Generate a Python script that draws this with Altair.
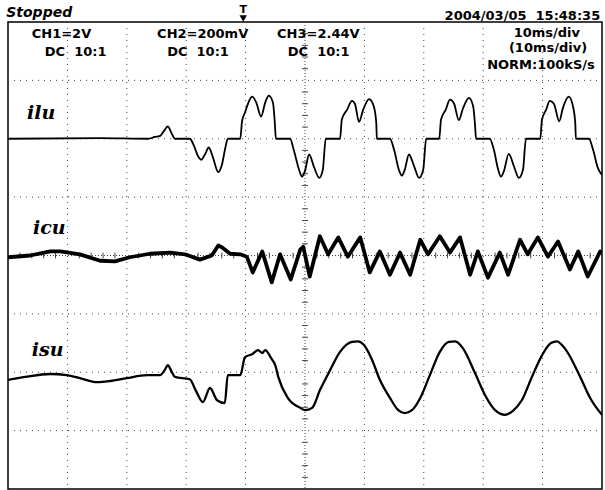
import altair as alt
import pandas as pd

# ---------------- waveform data (time in ms, value in divisions from channel ground) ----------------
ilu_t = [0.0, 15.5, 23.6, 24.7, 25.6, 26.3, 26.9, 27.6, 28.1, 30.6, 31.3, 32.0, 32.5, 33.2, 33.8, 34.5, 35.4, 36.0, 36.6, 37.0,
         39.1, 39.4, 39.9, 40.6, 41.1, 41.8, 42.6, 43.3, 43.9, 44.6, 44.9, 45.1,
         47.5, 48.1, 49.0, 49.5, 50.0, 50.7, 51.5, 52.4, 53.0, 53.5,
         55.9, 56.2, 57.1, 57.9, 58.4, 59.1, 59.8, 60.8, 61.6, 62.0, 62.1,
         64.3, 65.0, 65.8, 66.3, 66.8, 67.5, 68.4, 69.2, 69.9, 70.4,
         72.6, 72.9, 73.7, 74.4, 75.1, 75.9, 76.6, 77.6, 78.3, 78.6, 78.8,
         81.1, 81.8, 82.5, 83.0, 83.5, 84.3, 85.2, 86.0, 86.7, 87.2,
         89.6, 89.9, 90.6, 91.2, 91.9, 92.8, 93.4, 94.4, 95.1, 95.5, 95.6,
         97.8, 98.5, 99.3, 100.0]
ilu_v = [0.0, 0.01, 0.0, 0.03, 0.05, 0.14, 0.21, 0.08, 0.0, 0.0, -0.12, -0.30, -0.36, -0.26, -0.15, -0.32, -0.57, -0.45, -0.15, 0.0,
         0.0, 0.30, 0.45, 0.65, 0.72, 0.62, 0.38, 0.62, 0.74, 0.62, 0.30, 0.0,
         0.0, -0.19, -0.53, -0.65, -0.55, -0.27, -0.48, -0.67, -0.53, 0.0,
         0.0, 0.33, 0.50, 0.65, 0.60, 0.29, 0.50, 0.68, 0.55, 0.27, 0.0,
         0.0, -0.19, -0.53, -0.63, -0.53, -0.27, -0.48, -0.67, -0.53, 0.0,
         0.0, 0.33, 0.50, 0.67, 0.60, 0.32, 0.52, 0.70, 0.56, 0.27, 0.0,
         0.0, -0.19, -0.52, -0.65, -0.55, -0.26, -0.48, -0.67, -0.53, 0.0,
         0.0, 0.33, 0.50, 0.65, 0.60, 0.30, 0.52, 0.72, 0.56, 0.27, 0.0,
         0.0, -0.19, -0.50, -0.62]

icu_t = [0.0, 3.7, 7.1, 8.8, 12.1, 15.5, 18.0, 20.5, 23.9, 27.3, 29.8, 32.3, 34.3, 35.4, 36.0, 37.4, 39.1,
         40.2, 41.2, 42.8, 44.4, 45.8, 47.6, 49.2, 49.7, 50.8, 52.5, 53.9, 55.6, 57.2, 59.3, 60.9, 62.6,
         64.3, 66.0, 67.7, 69.4, 70.7, 72.7, 74.4, 76.1, 77.8, 79.1, 80.8, 82.8, 84.2, 86.2, 87.5, 89.2,
         90.9, 92.6, 94.6, 96.0, 97.6, 99.7, 100.0]
icu_v = [-0.03, 0.0, 0.07, 0.07, 0.02, -0.09, -0.10, -0.03, 0.03, 0.05, 0.02, -0.07, 0.0, 0.17, 0.14, 0.03, 0.02,
         -0.02, -0.29, 0.07, -0.46, 0.02, -0.41, 0.10, 0.15, -0.36, 0.33, 0.02, 0.31, -0.02, 0.31, -0.29, 0.07,
         -0.33, 0.05, -0.33, 0.27, 0.02, 0.33, 0.05, 0.31, -0.33, 0.07, -0.38, 0.05, -0.33, 0.27, 0.02, 0.31,
         -0.02, 0.24, -0.24, 0.07, -0.36, 0.07, 0.03]

isu_t = [0.0, 2.9, 7.1, 9.9, 12.1, 15.0, 17.2, 20.0, 23.4, 25.6, 26.4, 26.9, 27.6, 28.1, 30.6, 31.6, 32.8, 34.0, 35.2, 36.5,
         37.0, 39.1, 39.9, 41.1, 42.1, 42.8, 43.3, 44.3, 45.0, 45.5, 47.1, 49.2, 50.0, 51.2, 52.5, 54.0, 55.9,
         57.9, 58.9, 59.9, 61.3, 62.6, 64.3, 65.7, 66.8, 68.0, 69.4, 70.9, 72.7, 74.2, 75.3, 76.6, 78.6,
         80.3, 82.0, 83.7, 85.0, 86.5, 88.2, 89.9, 91.4, 92.4, 93.8, 96.2, 98.0, 100.0]
isu_v = [-0.03, 0.02, 0.07, 0.05, 0.0, -0.07, -0.05, 0.0, 0.05, 0.05, 0.14, 0.22, 0.10, 0.02, -0.02, -0.21, -0.41, -0.17, -0.38, -0.43,
         0.05, 0.05, 0.36, 0.41, 0.48, 0.43, 0.48, 0.34, 0.22, 0.02, -0.34, -0.51, -0.55, -0.51, -0.21, 0.09, 0.45,
         0.62, 0.63, 0.57, 0.31, -0.03, -0.34, -0.55, -0.60, -0.55, -0.34, 0.02, 0.45, 0.62, 0.63, 0.51, 0.09,
         -0.29, -0.55, -0.63, -0.56, -0.38, 0.02, 0.39, 0.60, 0.63, 0.50, 0.05, -0.34, -0.63]

# channel ground levels (divisions from bottom of screen)
ground = {"ilu": 6.0, "icu": 4.0, "isu": 1.9}

# grid
grid_t = [10, 20, 30, 40, 60, 70, 80, 90]
grid_v = [1, 2, 3, 5, 6, 7]
minor_v = [0.2, 0.4, 0.6, 0.8, 1.2, 1.4, 1.6, 1.8, 2.2, 2.4, 2.6, 2.8, 3.2, 3.4, 3.6, 3.8,
           4.2, 4.4, 4.6, 4.8, 5.2, 5.4, 5.6, 5.8, 6.2, 6.4, 6.6, 6.8, 7.2, 7.4, 7.6, 7.8]
minor_t = [2, 4, 6, 8, 12, 14, 16, 18, 22, 24, 26, 28, 32, 34, 36, 38, 42, 44, 46, 48,
           52, 54, 56, 58, 62, 64, 66, 68, 72, 74, 76, 78, 82, 84, 86, 88, 92, 94, 96, 98]

NB = "\u00a0"
# header texts
hdr_left_text = ["CH1=2V", "DC" + NB + NB + "10:1", "CH2=200mV", "DC" + NB + NB + "10:1", "CH3=2.44V", "DC" + NB + NB + "10:1"]
hdr_left_t = [4.0, 6.2, 25.1, 26.8, 45.3, 47.1]
hdr_left_v = [7.72, 7.42, 7.72, 7.42, 7.72, 7.42]
hdr_right_text = ["10ms/div", "(10ms/div)", "NORM:100kS/s"]
hdr_right_t = [96.3, 97.5, 98.8]
hdr_right_v = [7.74, 7.48, 7.2]
date_text = "2004/03/05" + NB + NB + "15:48:35"
ch_labels = ["ilu", "icu", "isu"]
ch_label_t = [3.2, 4.2, 4.0]
ch_label_v = [6.34, 4.37, 2.27]

X = alt.Scale(domain=[0, 100], nice=False, zero=False)
Y = alt.Scale(domain=[0, 8], nice=False, zero=False)


def xe(f):
    return alt.X(f, type="quantitative", scale=X, axis=None)


def ye(f):
    return alt.Y(f, type="quantitative", scale=Y, axis=None)


def trace(name, ts, vs, width, interp):
    df = pd.DataFrame({"t": ts, "y": [v + ground[name] for v in vs]})
    return alt.Chart(df).mark_line(color="black", strokeWidth=width, strokeJoin="round",
                                   interpolate=interp, clip=True).encode(x=xe("t"), y=ye("y"))


dot = "#444444"
vgrid = alt.Chart(pd.DataFrame({"t": grid_t})).mark_rule(color=dot, strokeWidth=1, strokeDash=[1, 5]).encode(
    x=xe("t"), y=alt.value(0), y2=alt.value(467))
hgrid = alt.Chart(pd.DataFrame({"v": grid_v})).mark_rule(color=dot, strokeWidth=1, strokeDash=[1, 5]).encode(
    y=ye("v"), x=alt.value(0), x2=alt.value(594))
vcenter = alt.Chart(pd.DataFrame({"t": [50]})).mark_rule(color=dot, strokeWidth=1, strokeDash=[1, 2]).encode(
    x=xe("t"), y=alt.value(0), y2=alt.value(467))
hcenter = alt.Chart(pd.DataFrame({"v": [4]})).mark_rule(color=dot, strokeWidth=1, strokeDash=[1, 2]).encode(
    y=ye("v"), x=alt.value(0), x2=alt.value(594))
vticks = alt.Chart(pd.DataFrame({"v": minor_v, "a": [49.5] * len(minor_v), "b": [50.5] * len(minor_v)})).mark_rule(
    color=dot, strokeWidth=1).encode(y=ye("v"), x=xe("a"), x2="b")
hticks = alt.Chart(pd.DataFrame({"t": minor_t, "a": [3.95] * len(minor_t), "b": [4.05] * len(minor_t)})).mark_rule(
    color=dot, strokeWidth=1).encode(x=xe("t"), y=ye("a"), y2="b")

font = "DejaVu Sans"
hdr_l = alt.Chart(pd.DataFrame({"t": hdr_left_t, "v": hdr_left_v, "s": hdr_left_text})).mark_text(
    align="left", baseline="alphabetic", font=font, fontSize=13, fontWeight="bold", color="black").encode(
    x=xe("t"), y=ye("v"), text="s:N")
hdr_r = alt.Chart(pd.DataFrame({"t": hdr_right_t, "v": hdr_right_v, "s": hdr_right_text})).mark_text(
    align="right", baseline="alphabetic", font=font, fontSize=13, fontWeight="bold", color="black").encode(
    x=xe("t"), y=ye("v"), text="s:N")
stopped = alt.Chart(pd.DataFrame({"t": [-0.3], "v": [8.09], "s": ["Stopped"]})).mark_text(
    align="left", baseline="alphabetic", font=font, fontSize=14, fontWeight="bold", fontStyle="italic",
    color="black").encode(x=xe("t"), y=ye("v"), text="s:N")
date = alt.Chart(pd.DataFrame({"t": [99.7], "v": [8.03], "s": [date_text]})).mark_text(
    align="right", baseline="alphabetic", font=font, fontSize=13, fontWeight="bold", color="black").encode(
    x=xe("t"), y=ye("v"), text="s:N")
trig_t = alt.Chart(pd.DataFrame({"t": [39.6], "v": [8.15], "s": ["T"]})).mark_text(
    align="center", baseline="alphabetic", font=font, fontSize=11, fontWeight="bold", color="black").encode(
    x=xe("t"), y=ye("v"), text="s:N")
trig_a = alt.Chart(pd.DataFrame({"t": [39.6], "v": [8.06]})).mark_point(
    shape="triangle-down", size=55, filled=True, color="black", opacity=1).encode(x=xe("t"), y=ye("v"))
labels = alt.Chart(pd.DataFrame({"t": ch_label_t, "v": ch_label_v, "s": ch_labels})).mark_text(
    align="left", baseline="alphabetic", font="DejaVu Serif", fontSize=19, fontWeight="bold", fontStyle="italic",
    color="black").encode(x=xe("t"), y=ye("v"), text="s:N")

chart = alt.layer(
    vgrid, hgrid, vcenter, hcenter, vticks, hticks,
    trace("ilu", ilu_t, ilu_v, 1.8, "monotone"),
    trace("icu", icu_t, icu_v, 3.8, "linear"),
    trace("isu", isu_t, isu_v, 2.3, "monotone"),
    hdr_l, hdr_r, stopped, date, trig_t, trig_a, labels,
).properties(
    width=594, height=467,
    autosize=alt.AutoSizeParams(type="none"),
    padding={"left": 8, "top": 22, "right": 3, "bottom": 1},
    background="white",
).configure_view(stroke="black", strokeWidth=1.5)

chart.save("out.html", embed_options={"renderer": "svg", "actions": False})
